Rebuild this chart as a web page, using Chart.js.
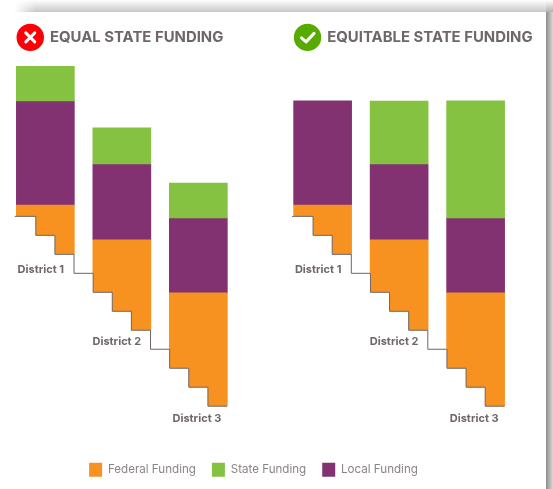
<!DOCTYPE html>
<html><head><meta charset="utf-8">
<script src="https://cdn.jsdelivr.net/npm/chart.js@4"></script>
<style>
html,body{margin:0;padding:0;background:#fff;overflow:hidden}
#wrap{position:relative;width:553px;height:489px;overflow:hidden;background:#fff}
#topband{position:absolute;left:14px;top:0;width:532px;height:12px;background:linear-gradient(to bottom,rgba(170,170,170,0),rgba(170,170,170,.65));-webkit-mask-image:linear-gradient(to right,transparent,#000 22px);mask-image:linear-gradient(to right,transparent,#000 22px)}
#corner{position:absolute;left:546px;top:0;width:7px;height:12px;background:linear-gradient(to bottom,rgba(170,170,170,0),rgba(170,170,170,.9))}
#rightband{position:absolute;left:546px;top:12px;width:7px;height:477px;background:linear-gradient(to right,#8c8c8c,#d9d9d9)}
canvas{position:absolute;left:0;top:0}
</style></head>
<body><div id="wrap"><div id="topband"></div><div id="corner"></div><div id="rightband"></div><canvas id="c" width="546" height="489"></canvas></div>
<script>
const districts = ['District 1', 'District 2', 'District 3'];
const panelTitles = ['EQUAL STATE FUNDING', 'EQUITABLE STATE FUNDING'];
const seriesNames = ['Federal Funding', 'State Funding', 'Local Funding'];
const floors = [80, 40, 0];
const federal = [26, 47.6, 59.7];
const local = [54.8, 40, 39.5];
const stateEqual = [18.2, 19, 18.3];
const stateEquitable = [0, 33.1, 61.6];
const stairLevels = [100, 90, 80, 70, 60, 50, 40, 30, 20, 10, 0, 0];
const barCentres = [1.5, 5.5, 9.5];
const panelStart = [0, 14.5];

const FONT = 'Inter, "Open Sans", sans-serif';
const ORANGE = '#F79220', GREEN = '#85C241', PURPLE = '#823270', INK = '#6E6669';

function floating(pick) {
  const out = [];
  [stateEqual, stateEquitable].forEach((state, p) => {
    districts.forEach((_, i) => {
      const f0 = floors[i], f1 = f0 + federal[i], l1 = f1 + local[i], s1 = l1 + state[i];
      const seg = pick(f0, f1, l1, s1);
      if (seg[1] > seg[0]) out.push({x: panelStart[p] + barCentres[i], y: seg});
    });
  });
  return out;
}
function stairs(p) {
  return {
    type: 'line', order: 0, stepped: 'before', pointRadius: 0,
    data: stairLevels.map((y, i) => ({x: panelStart[p] + (i === 0 ? -0.1 : i), y})),
    borderColor: '#6F6663', borderWidth: 1, fill: {value: -1}, backgroundColor: '#fff', clip: false
  };
}
const barBase = {type: 'bar', order: 1, grouped: false, barThickness: 58, borderWidth: 0, borderSkipped: false, clip: false};

const labelNudgeX = [-4.5, -5, -1.4];
const labelNudgeY = [15, 11, 12];

const annotate = {
  id: 'annotate',
  afterLayout(chart) {
    chart.legend.left -= 2.2;
    chart.legend.right -= 2.2;
    chart.legend.top += 1;
    chart.legend.bottom += 1;
  },
  afterDatasetsDraw(chart) {
    const {ctx, scales: {x, y}} = chart;
    ctx.save();
    ctx.textBaseline = 'middle';
    panelStart.forEach((start, p) => {
      const good = p === 1;
      const cx = x.getPixelForValue(start) + 13.6;
      const cy = 37.4, r = 13.7;
      ctx.beginPath(); ctx.arc(cx, cy, r, 0, Math.PI * 2);
      ctx.fillStyle = good ? '#57AB00' : '#FB0007'; ctx.fill();
      ctx.strokeStyle = '#fff'; ctx.lineWidth = 3; ctx.lineCap = 'round'; ctx.lineJoin = 'round';
      ctx.beginPath();
      if (good) { ctx.moveTo(cx - 6, cy + 0.5); ctx.lineTo(cx - 1.5, cy + 4.5); ctx.lineTo(cx + 6.5, cy - 4); }
      else { ctx.moveTo(cx - 4.5, cy - 4.5); ctx.lineTo(cx + 4.5, cy + 4.5); ctx.moveTo(cx + 4.5, cy - 4.5); ctx.lineTo(cx - 4.5, cy + 4.5); }
      ctx.stroke();
      ctx.fillStyle = INK; ctx.textAlign = 'left';
      ctx.font = 'bold 14.9px ' + FONT;
      ctx.fillText(panelTitles[p], cx + 19.7, cy + 0.5);
      ctx.font = 'bold 11px ' + FONT;
      ctx.textAlign = 'center';
      districts.forEach((name, i) => {
        const px = x.getPixelForValue(start + barCentres[i]);
        ctx.fillText(name, px + labelNudgeX[i], y.getPixelForValue(floors[i]) + labelNudgeY[i]);
      });
    });
    ctx.restore();
  }
};

new Chart(document.getElementById('c'), {
  data: {datasets: [
    {...barBase, label: seriesNames[0], backgroundColor: ORANGE, data: floating((a, b) => [a, b])},
    {...barBase, label: seriesNames[1], backgroundColor: GREEN, data: floating((a, b, c, d) => [c, d])},
    {...barBase, label: seriesNames[2], backgroundColor: PURPLE, data: floating((a, b, c) => [b, c])},
    {...stairs(0), label: 'stairs-equal'},
    {...stairs(1), label: 'stairs-equitable'}
  ]},
  options: {
    responsive: false, animation: false,
    layout: {padding: {left: 7.1, right: 41.7, top: 40, bottom: 3.3}},
    scales: {
      x: {type: 'linear', display: false, offset: false, min: -0.5, max: 25.5},
      y: {display: false, min: -20.8, max: 192.9}
    },
    plugins: {
      tooltip: {enabled: false},
      legend: {
        position: 'bottom',
        labels: {
          boxWidth: 13, boxHeight: 14, padding: 16,
          color: '#8B8487', font: {family: FONT, size: 11.6},
          filter: item => seriesNames.includes(item.text)
        }
      }
    }
  },
  plugins: [annotate]
});
</script></body></html>
